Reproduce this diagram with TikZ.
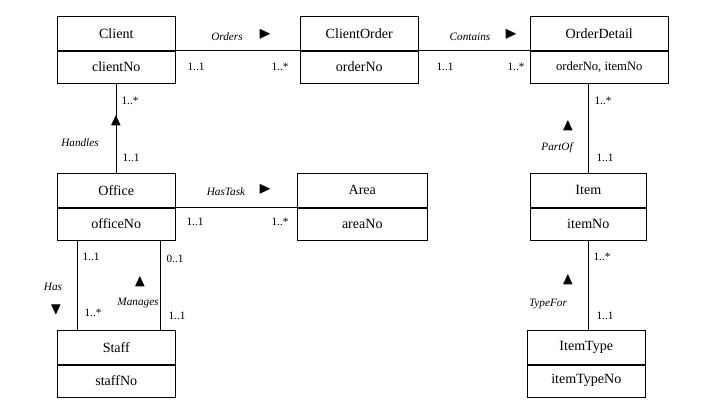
\documentclass[tikz,border=0pt]{standalone}
\usepackage{amssymb}
\usepackage{fontspec}
\setmainfont{Liberation Serif}
\usetikzlibrary{positioning}
\begin{document}
\begin{tikzpicture}[x=0.025cm, y=-0.025cm,
    head/.style={draw, minimum height=0.85cm, inner sep=0pt, font=\normalsize, anchor=north west},
    attr/.style={draw, minimum height=0.8cm, inner sep=0pt, font=\normalsize},
    mult/.style={font=\footnotesize, inner sep=1pt},
    role/.style={font=\footnotesize\itshape, inner sep=1pt},
    tri/.style={font=\large, inner sep=0pt}
  ]
  \useasboundingbox (0,0) rectangle (712,413);

  % Classes
  \node[head, minimum width=2.95cm] (clientT) at (57,16) {Client};
  \node[attr, minimum width=2.95cm, below=0pt of clientT] (clientA) {clientNo};
  \node[head, minimum width=2.95cm] (orderT) at (300,16) {ClientOrder};
  \node[attr, minimum width=2.95cm, below=0pt of orderT] (orderA) {orderNo};
  \node[head, minimum width=3.45cm] (detailT) at (530,16) {OrderDetail};
  \node[attr, minimum width=3.45cm, below=0pt of detailT, font=\small] (detailA) {orderNo, itemNo};
  \node[head, minimum width=2.95cm] (officeT) at (57,173) {Office};
  \node[attr, minimum width=2.95cm, below=0pt of officeT] (officeA) {officeNo};
  \node[head, minimum width=3.25cm] (areaT) at (297,173) {Area};
  \node[attr, minimum width=3.25cm, below=0pt of areaT] (areaA) {areaNo};
  \node[head, minimum width=2.9cm] (itemT) at (530,173) {Item};
  \node[attr, minimum width=2.9cm, below=0pt of itemT] (itemA) {itemNo};
  \node[head, minimum width=2.95cm] (staffT) at (57,330) {Staff};
  \node[attr, minimum width=2.95cm, below=0pt of staffT] (staffA) {staffNo};
  \node[head, minimum width=2.95cm] (typeT) at (527,330) {ItemType};
  \node[attr, minimum width=2.95cm, below=0pt of typeT] (typeA) {itemTypeNo};

  % Associations
  \draw (clientT.south east) -- (orderT.south west);
  \draw (orderT.south east) -- (detailT.south west);
  \draw (clientA.south) -- (officeT.north);
  \draw (officeT.south east) -- (areaT.south west);
  \draw (itemT.north) -- (itemT.north |- detailA.south);
  \draw (itemA.south) -- (itemA.south |- typeT.north);
  \draw ([xshift=-0.975cm]officeA.south) -- ([xshift=-0.975cm]staffT.north);
  \draw ([xshift=1.1cm]officeA.south) -- ([xshift=1.1cm]staffT.north);

  % Labels
  \node[role] (l1) at (227,37) {Orders};
  \node[tri] (t1) at (265,34) {$\blacktriangleright$};
  \node[mult] (m1) at (196,67) {1..1};
  \node[mult] (m2) at (280,67) {1..*};
  \node[role] (l2) at (470,37) {Contains};
  \node[tri] (t2) at (511,34) {$\blacktriangleright$};
  \node[mult] (m3) at (445,67) {1..1};
  \node[mult] (m4) at (516,67) {1..*};
  \node[mult] (m5) at (130,101) {1..*};
  \node[tri] (t3) at (116,121) {$\blacktriangle$};
  \node[role] (l3) at (80,143) {Handles};
  \node[mult] (m6) at (131,158) {1..1};
  \node[role] (l4) at (226,192) {HasTask};
  \node[tri] (t4) at (265,189) {$\blacktriangleright$};
  \node[mult] (m7) at (195,222) {1..1};
  \node[mult] (m8) at (280,222) {1..*};
  \node[mult] (m9) at (603,101) {1..*};
  \node[tri] (t5) at (568,126) {$\blacktriangle$};
  \node[role] (l5) at (557,148) {PartOf};
  \node[mult] (m10) at (605,158) {1..1};
  \node[mult] (m11) at (602,257) {1..*};
  \node[tri] (t6) at (568,280) {$\blacktriangle$};
  \node[role] (l6) at (548,304) {TypeFor};
  \node[mult] (m12) at (605,316) {1..1};
  \node[mult] (m13) at (91,257) {1..1};
  \node[role] (l7) at (53,287) {Has};
  \node[tri] (t7) at (56,310) {$\blacktriangledown$};
  \node[mult] (m14) at (93,313) {1..*};
  \node[mult] (m15) at (175,259) {0..1};
  \node[tri] (t8) at (140,282) {$\blacktriangle$};
  \node[role] (l8) at (138,303) {Manages};
  \node[mult] (m16) at (177,316) {1..1};
\end{tikzpicture}
\end{document}
